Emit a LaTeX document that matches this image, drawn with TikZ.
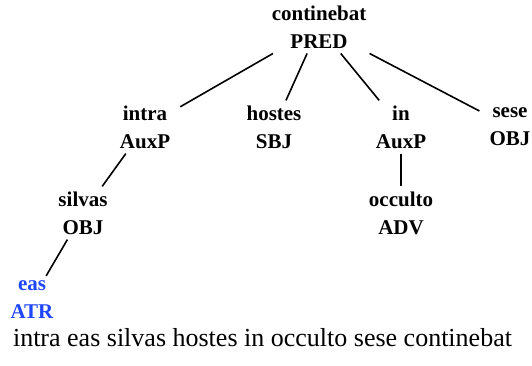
\documentclass[tikz,border=0pt]{standalone}
\usepackage{fontspec}
\setmainfont{Liberation Serif}
\newfontfamily\lsf{Liberation Serif}
\definecolor{atrblue}{RGB}{30,70,255}
\tikzset{
  tnode/.style={align=center, inner xsep=10pt, inner ysep=5pt,
    font=\lsf\fontsize{21}{28}\selectfont\bfseries},
  tedge/.style={line width=1.6pt, black}
}
\begin{document}
\begin{tikzpicture}[x=1pt,y=-1pt]
\useasboundingbox (0,0) rectangle (532,366);
\node[tnode] (cont) at (319,27) {continebat\\PRED};
\node[tnode] (intra) at (145,127) {intra\\AuxP};
\node[tnode] (hostes) at (274,127) {hostes\\SBJ};
\node[tnode] (in) at (401,127) {in\\AuxP};
\node[tnode] (sese) at (510,127) {sese\\OBJ};
\node[tnode] (silvas) at (83,213) {silvas\\OBJ};
\node[tnode] (occulto) at (401,213) {occulto\\ADV};
\node[tnode, text=atrblue] (eas) at (32,300) {eas\\ATR};
\node[font=\lsf\fontsize{26}{30}\selectfont, anchor=base, inner sep=0pt] (sent) at (262.5,346) {intra eas silvas hostes in occulto sese continebat};
\draw[tedge] (cont) -- (intra);
\draw[tedge] (cont) -- (hostes);
\draw[tedge] (cont) -- (in);
\draw[tedge] (cont) -- (sese);
\draw[tedge] (intra) -- (silvas);
\draw[tedge] (in) -- (occulto);
\draw[tedge] (silvas) -- (eas);
\end{tikzpicture}
\end{document}
